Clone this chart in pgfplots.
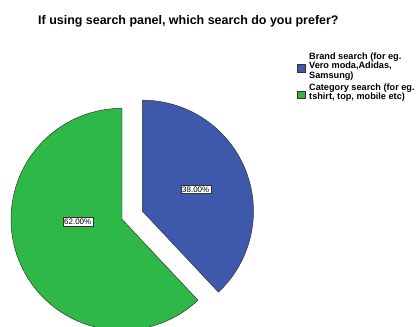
\documentclass[border=0pt]{standalone}
\usepackage{pgfplots}
\usepackage{pgfplotstable}
\pgfplotsset{compat=1.18}
\usepackage{fontspec}
\setmainfont{Liberation Sans}
\definecolor{pieblue}{HTML}{3E58AC}
\definecolor{piegreen}{HTML}{2EB848}
\definecolor{edge}{HTML}{333333}
\pgfplotstableread{
label value
Brand 38
Category 62
}\piedata
\begin{document}%
\begin{tikzpicture}
\pgfplotstablegetelem{0}{value}\of\piedata \let\vA\pgfplotsretval
\pgfplotstablegetelem{1}{value}\of\piedata \let\vB\pgfplotsretval
\pgfmathsetmacro{\aStart}{90}
\pgfmathsetmacro{\aMid}{90-3.6*\vA}
\pgfmathsetmacro{\aEnd}{90-3.6*(\vA+\vB)}
\pgfmathsetmacro{\bis}{(\aStart+\aMid)/2}
\def\cx{122}\def\cy{219.3}\def\R{111}
\pgfmathsetmacro{\bx}{\cx+22*cos(\bis)}
\pgfmathsetmacro{\by}{\cy-22*sin(\bis)}
\begin{axis}[
  width=420bp, height=327bp, scale only axis,
  xmin=0, xmax=420, ymin=0, ymax=327, y dir=reverse,
  hide axis, clip=true,
]
\coordinate (BB1) at (rel axis cs:0,0);
\coordinate (BB2) at (rel axis cs:1,1);
% green slice (Category)
\addplot[fill=piegreen, draw=edge, line width=0.5pt, domain=\aEnd:\aMid, samples=120, variable=\t]
  ({\cx+\R*cos(t)},{\cy-\R*sin(t)}) -- (axis cs:\cx,\cy) -- cycle;
% blue slice (Brand), exploded
\addplot[fill=pieblue, draw=edge, line width=0.5pt, domain=\aMid:\aStart, samples=80, variable=\t]
  ({\bx+\R*cos(t)},{\by-\R*sin(t)}) -- (axis cs:\bx,\by) -- cycle;
% slice labels
\node[fill=white, draw=edge, line width=0.3pt, inner sep=1.5pt, font=\fontsize{8}{9}\selectfont] at (axis cs:195.7,189.3) {38.00\%};
\node[fill=white, draw=edge, line width=0.3pt, inner sep=1.5pt, font=\fontsize{8}{9}\selectfont] at (axis cs:77.7,221.7) {62.00\%};
% title
\node[font=\bfseries\fontsize{12.5}{14}\selectfont, anchor=west, inner sep=0pt] at (axis cs:38,21.7) {If using search panel, which search do you prefer?};
% legend
\fill[pieblue, draw=edge, line width=0.3pt] (axis cs:297.5,64.5) rectangle (axis cs:305.5,72);
\node[font=\bfseries\fontsize{9.2}{9.6}\selectfont, anchor=north west, align=left, inner sep=0pt] at (axis cs:309,52.5) {Brand search (for eg.\\Vero moda,Adidas,\\Samsung)};
\fill[piegreen, draw=edge, line width=0.3pt] (axis cs:297.5,91) rectangle (axis cs:305.5,98.5);
\node[font=\bfseries\fontsize{9.2}{9.6}\selectfont, anchor=north west, align=left, inner sep=0pt] at (axis cs:309,83.5) {Category search (for eg.\\tshirt, top, mobile etc)};
\end{axis}
\pgfresetboundingbox
\path (BB1) rectangle (BB2);
\end{tikzpicture}%
\end{document}
